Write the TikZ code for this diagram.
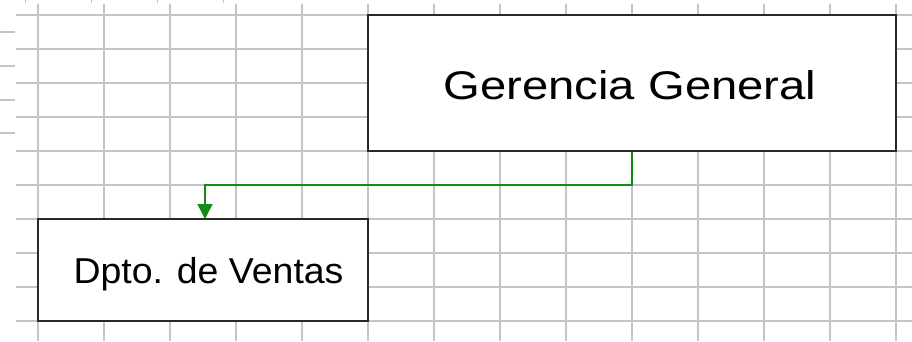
\documentclass[tikz,border=0pt]{standalone}
\usepackage{fontspec}
\setmainfont{Liberation Sans}
\usetikzlibrary{arrows.meta}
\definecolor{gridgray}{RGB}{196,196,196}
\definecolor{linkgreen}{RGB}{20,140,20}
\definecolor{boxline}{RGB}{40,40,40}
\tikzset{
  gridline/.style={draw=gridgray, line width=1.7bp},
  orgbox/.style={draw=boxline, fill=white, line width=1.5bp},
  link/.style={draw=linkgreen, line width=1.4bp, -{Triangle[length=15bp,width=15bp]}},
}
\begin{document}
\begin{tikzpicture}[x=1bp,y=-1bp]
\useasboundingbox[fill=white] (0,0) rectangle (912,341);
% grid
\foreach \k in {0,...,9}{
  \draw[gridline] (16,{15+34*\k}) -- (912,{15+34*\k});
}
\foreach \k in {0,...,13}{
  \draw[gridline] ({38+66*\k},4) -- ({38+66*\k},341);
}
\foreach \yy in {32,66,100,133}{
  \draw[gridline] (0,\yy) -- (15,\yy);
}
\foreach \k in {0,...,3}{
  \draw[gridline, line width=1bp] ({25+66*\k},0) -- ({25+66*\k},3);
}
% boxes
\node[orgbox, minimum width=528bp, minimum height=136bp, inner sep=0pt] (gg) at (632,83) {};
\node[font=\fontsize{40bp}{44bp}\selectfont, inner sep=0pt, anchor=base] (ggtext) at (630,99) {\scalebox{1.18}[1]{Gerencia General}};
\node[orgbox, minimum width=330bp, minimum height=102bp, inner sep=0pt] (dv) at (203,270) {};
\node[font=\fontsize{36bp}{40bp}\selectfont, inner sep=0pt, anchor=base] (dvtext) at (208.5,283) {\scalebox{1.04}[1]{Dpto. de Ventas}};
% connector
\coordinate (bend1) at (632,185);
\draw[link] (gg.south) -- (bend1) -- (205,185) -- (205,219);
\end{tikzpicture}
\end{document}
